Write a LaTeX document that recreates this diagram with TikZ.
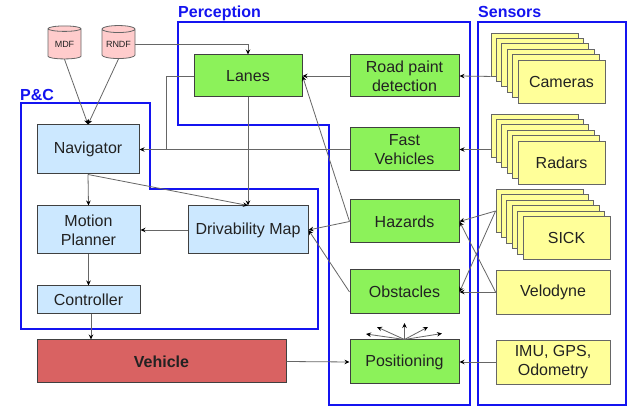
\documentclass[tikz,border=0pt]{standalone}
\usepackage{fontspec}
\setmainfont{Liberation Sans}
\usetikzlibrary{arrows.meta,shapes.geometric,calc}
\definecolor{frameblue}{HTML}{1414F0}
\definecolor{boxgreen}{HTML}{8CF25A}
\definecolor{boxblue}{HTML}{CCE8FF}
\definecolor{boxyellow}{HTML}{FFFF99}
\definecolor{boxred}{HTML}{D96262}
\definecolor{boxpink}{HTML}{FFCCCC}
\definecolor{edge}{HTML}{404040}
\definecolor{wire}{HTML}{666666}
\definecolor{ink}{HTML}{222222}
\tikzset{
  basebox/.style={draw=edge,line width=1pt,rectangle,inner sep=0pt,align=center,text=ink,
    font=\fontsize{16}{19}\selectfont},
  greenbox/.style={basebox,fill=boxgreen,minimum width=109pt,minimum height=43pt},
  bluebox/.style={basebox,fill=boxblue,draw=edge},
  yellowbox/.style={basebox,fill=boxyellow,draw=wire,line width=0.9pt,minimum width=114pt,minimum height=44pt},
  card/.style={basebox,fill=boxyellow,draw=wire,line width=0.9pt,minimum width=87pt,minimum height=43pt},
  db/.style={cylinder,shape border rotate=90,aspect=0.28,draw=wire,line width=0.8pt,cylinder uses custom fill,
    cylinder body fill=boxpink,cylinder end fill=boxpink,inner sep=0pt,minimum width=33pt,minimum height=33pt,
    text=ink,font=\fontsize{9}{11}\selectfont},
  frame/.style={draw=frameblue,line width=1.4pt,line join=miter},
  framelabel/.style={text=frameblue,font=\fontsize{16}{19}\selectfont\bfseries,inner sep=0pt,anchor=base west},
  conn/.style={draw=wire,line width=0.8pt,-{Stealth[length=5pt,width=4.5pt,color=black]}},
  plain/.style={draw=wire,line width=0.8pt},
}
\begin{document}
\begin{tikzpicture}[x=1pt,y=-1pt]
\useasboundingbox[fill=white] (0,0) rectangle (643,419);
% frames
\draw[frame] (178,22) -- (470,22) -- (470,405) -- (329,405) -- (329,125) -- (178,125) -- cycle;
\draw[frame] (21,103) -- (150,103) -- (150,189) -- (318,189) -- (318,329) -- (21,329) -- cycle;
\draw[frame] (478,22) rectangle (626,405);
\node[framelabel] (lperc) at (178,18) {Perception};
\node[framelabel] (lpc) at (20,101) {P\&C};
\node[framelabel] (lsens) at (478,18) {Sensors};
% data stores
\node[db] (mdf) at (64.5,44) {MDF};
\node[db] (rndf) at (118.5,44) {RNDF};
% perception
\node[greenbox,minimum width=108pt,minimum height=42pt] (lanes) at (248,76) {Lanes};
\node[greenbox,minimum height=42pt] (road) at (404.5,76) {Road paint\\detection};
\node[greenbox] (fast) at (404.5,149.5) {Fast\\Vehicles};
\node[greenbox] (haz) at (404.5,221.5) {Hazards};
\node[greenbox,minimum height=44pt] (obs) at (404.5,292) {Obstacles};
\node[greenbox,minimum height=44pt] (pos) at (404.5,362) {Positioning};
% planning and control
\node[bluebox,minimum width=102pt,minimum height=49pt] (nav) at (88,149.5) {Navigator};
\node[bluebox,minimum width=103pt,minimum height=48pt] (mot) at (88.5,230) {Motion\\Planner};
\node[bluebox,minimum width=120pt,minimum height=48pt] (driv) at (248,230) {Drivability Map};
\node[bluebox,minimum width=103pt,minimum height=28pt] (ctrl) at (88.5,300) {Controller};
\node[basebox,fill=boxred,minimum width=249pt,minimum height=43pt,font=\fontsize{16}{19}\selectfont\bfseries] (veh) at (161.5,361.5) {Vehicle};
% sensors
\foreach \i in {0,...,4} {
  \node[card] (cam\i) at ({534.5+5.4*\i},{54.5+5.4*\i}) {};
  \node[card] (rad\i) at ({534.5+5.4*\i},{135.5+5.4*\i}) {};
  \node[card] (sick\i) at ({539.5+5.4*\i},{211+5.4*\i}) {};
}
\node[card] (cam) at (561.5,81.5) {Cameras};
\node[card] (rad) at (561.5,162.5) {Radars};
\node[card] (sick) at (566.5,238) {SICK};
\node[yellowbox] (velo) at (553,292) {Velodyne};
\node[yellowbox] (imu) at (553,362) {IMU, GPS,\\Odometry};
% connectors
\draw[conn] (mdf.south) -- (nav.north);
\draw[conn] (rndf.south) -- (nav.north);
\draw[conn] (rndf.east) -| (lanes.north);
\draw[plain] (lanes.west) -| (166,149.5);
\draw[conn] (fast.west) -- (nav.east);
\draw[conn] (lanes.south) -- (driv.north);
\draw[conn] (nav.south) -- (mot.north);
\draw[conn] (nav.south) -- (driv.north);
\draw[conn] (driv.west) -- (mot.east);
\draw[conn] (mot.south) -- (ctrl.north);
\draw[conn] ([xshift=2.5pt]ctrl.south) -- ([xshift=2.5pt]ctrl.south |- veh.north);
\draw[conn] (veh.east) -- (pos.west);
\draw[conn] (road.west) -- (lanes.east);
\draw[conn] (cam0.south west) -- (road.east);
\draw[conn] (rad0.west |- fast.east) -- (fast.east);
\draw[conn] (haz.west) -- (lanes.east);
\draw[conn] (haz.west) -- (driv.east);
\draw[conn] (obs.west) -- (driv.east);
\draw[conn] (sick0.west) -- (haz.east);
\draw[conn] (sick0.west) -- (obs.east);
\draw[conn] (velo.west) -- (obs.east);
\draw[conn] (velo.west) -- (haz.east);
\draw[conn] (imu.west) -- (pos.east);
% positioning output fan
\coordinate (f1) at (366,334);
\coordinate (f2) at (377,327);
\coordinate (f3) at (404.5,323);
\coordinate (f4) at (428,327);
\coordinate (f5) at (442,333.5);
\foreach \f in {f1,f2,f3,f4,f5} \draw[conn] (pos.north) -- (\f);
\end{tikzpicture}
\end{document}
